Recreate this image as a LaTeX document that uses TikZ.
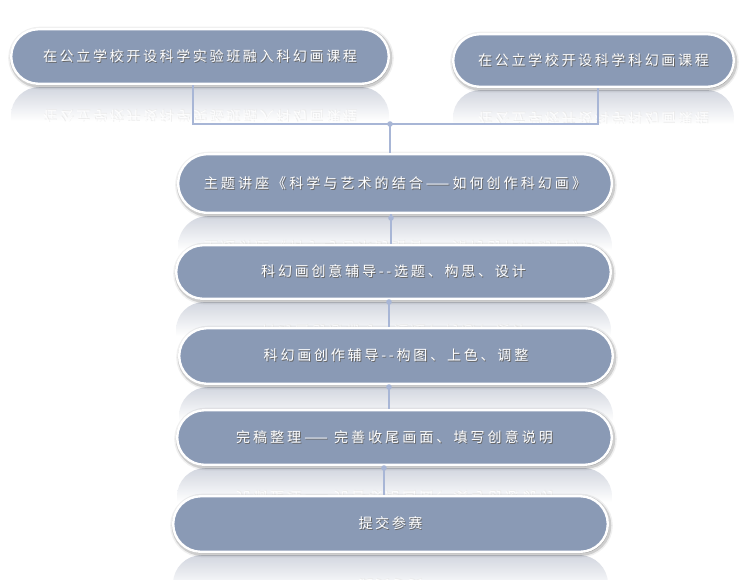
\documentclass[tikz,border=0pt]{standalone}
\usepackage{fontspec}
\newfontfamily\cjkfont{Noto Sans CJK SC}
\usetikzlibrary{shapes.misc,calc,shadows}
\definecolor{boxfill}{HTML}{8A9AB5}
\definecolor{linkc}{HTML}{A8B6D6}
\definecolor{reflc}{HTML}{D2D6DF}
\newcommand{\shtext}[2][black!60]{\leavevmode\rlap{\kern0.8pt\raisebox{-0.8pt}{\textcolor{#1}{#2}}}#2}
\newcommand{\refl}[6]{%
  \pgfmathsetmacro\rxa{#1-#3/2+1}%
  \pgfmathsetmacro\rxb{#1+#3/2-1}%
  \pgfmathsetmacro\rya{#2+#4/2+2}%
  \pgfmathsetmacro\ryb{#2+#4/2+2+#4}%
  \pgfmathsetmacro\ryc{#2+#4/2+36}%
  \pgfmathsetmacro\rr{#4/2}%
  \pgfmathsetmacro\rty{#2+#4+3}%
  \begin{scope}
    \clip[rounded corners=\rr pt] (\rxa,\rya) rectangle (\rxb,\ryb);
    \shade[top color=reflc, bottom color=white] (\rxa,\rya) rectangle (\rxb,\ryc);
    \node[yscale=-1, transform shape, text=white, opacity=0.9,
      font=\cjkfont\fontsize{14}{14}\selectfont\addfontfeatures{LetterSpace=#5}]
      at (#1,\rty) {\shtext[black!8]{#6}};
  \end{scope}}
\tikzset{
  boxst/.style={rounded rectangle, inner sep=0pt, fill=boxfill, draw=white,
    line width=2.4pt, text=white,
    drop shadow={fill=black, draw=black, line width=8pt, opacity=0.06,
      shadow xshift=1pt, shadow yshift=-1.5pt},
    drop shadow={fill=black, draw=black, line width=5pt, opacity=0.14,
      shadow xshift=1pt, shadow yshift=-1.5pt}},
  link/.style={draw=linkc, line width=1.3pt},
  dotst/.style={fill=linkc}
}
\newcommand{\bfont}[1]{\cjkfont\fontsize{14}{14}\selectfont\addfontfeatures{LetterSpace=#1}}
\begin{document}
\begin{tikzpicture}[x=1pt,y=-1pt]
\useasboundingbox (0,0) rectangle (749,579);
\fill[white] (0,0) rectangle (749,579);
% reflections
\refl{200}{56.5}{380}{57}{19}{在公立学校开设科学实验班融入科幻画课程}
\refl{593.5}{60.5}{283}{55}{19}{在公立学校开设科学科幻画课程}
\refl{395}{183.5}{436}{61}{22}{主题讲座《科学与艺术的结合——如何创作科幻画》}
\refl{393.5}{272}{437}{56}{20}{科幻画创意辅导-{}-选题、构思、设计}
\refl{396}{356}{436}{58}{20}{科幻画创作辅导-{}-构图、上色、调整}
\refl{394.5}{437.5}{437}{57}{22}{完稿整理—— 完善收尾画面、填写创意说明}
\refl{390.5}{524}{437}{58}{18}{提交参赛}
% nodes
\path (200,56.5) node[boxst, minimum width=377.6, minimum height=54.6, font=\bfont{19}] (b1) {\shtext{在公立学校开设科学实验班融入科幻画课程}};
\path (593.5,60.5) node[boxst, minimum width=280.6, minimum height=52.6, font=\bfont{19}] (b2) {\shtext{在公立学校开设科学科幻画课程}};
\coordinate (J) at (390,124);
\coordinate (k1) at (391,0);
\coordinate (k2) at (389,0);
\coordinate (k3) at (389,0);
\coordinate (k4) at (384,0);
\path (395,183.5) node[boxst, minimum width=433.6, minimum height=58.6, font=\bfont{22}] (b3) {\shtext{主题讲座《科学与艺术的结合——如何创作科幻画》}};
\path (393.5,272) node[boxst, minimum width=434.6, minimum height=53.6, font=\bfont{20}] (b4) {\shtext{科幻画创意辅导-{}-选题、构思、设计}};
\path (396,356) node[boxst, minimum width=433.6, minimum height=55.6, font=\bfont{20}] (b5) {\shtext{科幻画创作辅导-{}-构图、上色、调整}};
\path (394.5,437.5) node[boxst, minimum width=434.6, minimum height=54.6, font=\bfont{22}] (b6) {\shtext{完稿整理—— 完善收尾画面、填写创意说明}};
\path (390.5,524) node[boxst, minimum width=434.6, minimum height=55.6, font=\bfont{18}] (b7) {\shtext{提交参赛}};
% connectors
\draw[link] ([xshift=-7pt]b1.south) |- (J) -| ([xshift=4.5pt]b2.south);
\draw[link] (J) -- (b3.north -| J);
\fill[dotst] (J) circle (2.8);
\draw[link] (b3.south -| k1) -- (b4.north -| k1);
\fill[dotst] ([yshift=-4pt]b3.south -| k1) circle (2.8);
\draw[link] (b4.south -| k2) -- (b5.north -| k2);
\fill[dotst] ([yshift=-2pt]b4.south -| k2) circle (2.8);
\draw[link] (b5.south -| k3) -- (b6.north -| k3);
\fill[dotst] ([yshift=-2pt]b5.south -| k3) circle (2.8);
\draw[link] (b6.south -| k4) -- (b7.north -| k4);
\fill[dotst] ([yshift=-2pt]b6.south -| k4) circle (2.8);
\end{tikzpicture}
\end{document}
